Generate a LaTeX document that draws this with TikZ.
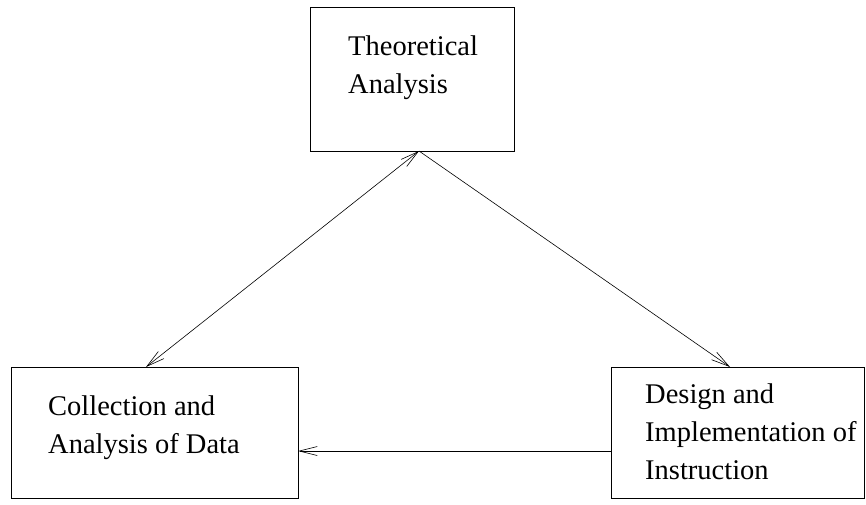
\documentclass[tikz,border=0pt]{standalone}
\usepackage{fontspec}
\setmainfont{Liberation Serif}
\usetikzlibrary{arrows.meta}
\begin{document}
\begin{tikzpicture}[x=1pt,y=-1pt,
  boxnode/.style={draw=black,line width=0.9pt,inner sep=0pt,rectangle},
  txt/.style={align=left,anchor=base west,inner sep=0pt,font=\fontsize{28.5}{38}\selectfont},
  conn/.style={draw=black,line width=0.6pt},
  barbtip/.tip={Straight Barb[length=18pt,width=9pt,line width=0.6pt]}]
\useasboundingbox (0,0) rectangle (866,504);
\node[boxnode,minimum width=204pt,minimum height=144pt] (top) at (412,79) {};
\node[boxnode,minimum width=287pt,minimum height=131pt] (col) at (154.5,432.5) {};
\node[boxnode,minimum width=253pt,minimum height=131pt] (des) at (737.5,432.5) {};
\node[txt] (ttop) at (348,93) {Theoretical\\Analysis};
\node[txt] (tcol) at (48,453) {Collection and\\Analysis of Data};
\node[txt] (tdes) at (645,479) {Design and\\Implementation of\\Instruction};
\coordinate (apex) at (419,151);
\coordinate (cl) at (146,367);
\coordinate (dr) at (730,367);
\coordinate (hd) at (611,451);
\coordinate (hc) at (298,451);
\draw[conn,barbtip-barbtip] (cl) -- (apex);
\draw[conn,-barbtip] (apex) -- (dr);
\draw[conn,-barbtip] (hd) -- (hc);
\end{tikzpicture}
\end{document}
